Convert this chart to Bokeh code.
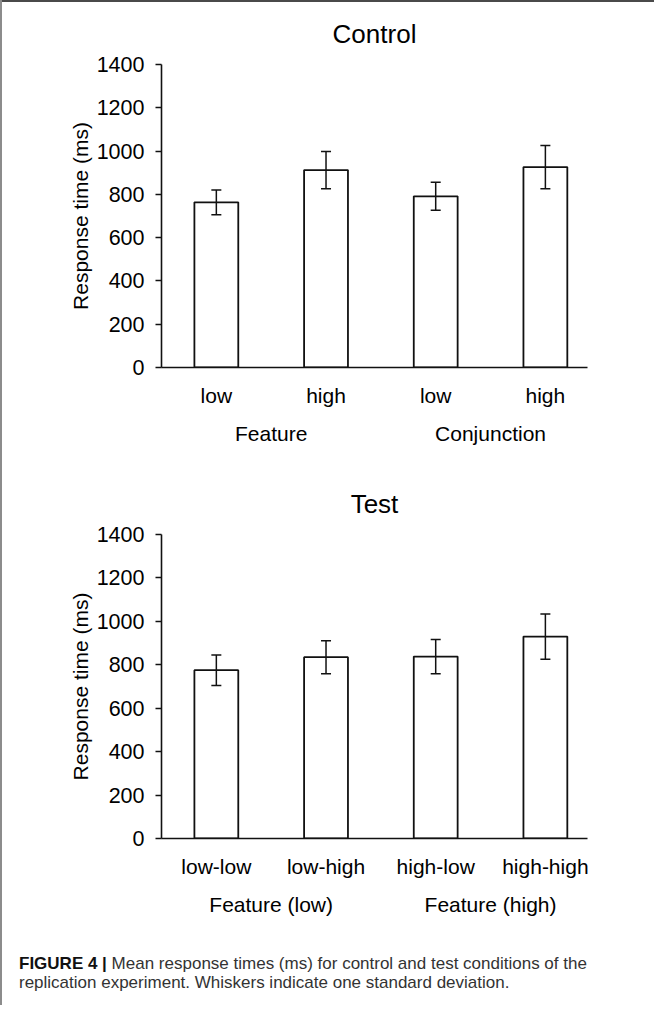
from bokeh.plotting import figure
from bokeh.models import (Range1d, LinearAxis, FixedTicker, Whisker, ColumnDataSource,
                          Div, TeeHead)
from bokeh.layouts import column
from bokeh.embed import file_html
from bokeh.resources import INLINE

# ---------------- data ----------------
ctrl_labels = ["low", "high", "low", "high"]
ctrl_groups = ["Feature", "Conjunction"]
ctrl_mean = [763, 912, 791, 926]
ctrl_sd = [57, 86, 65, 100]

test_labels = ["low-low", "low-high", "high-low", "high-high"]
test_groups = ["Feature (low)", "Feature (high)"]
test_mean = [775, 835, 838, 930]
test_sd = [70, 76, 79, 104]

y_ticks = [0, 200, 400, 600, 800, 1000, 1200, 1400]

FONT = "Liberation Sans"


def make_chart(title, labels, groups, means, sds, height, top, bottom):
    n = len(labels)
    xs = list(range(n))
    p = figure(width=646, height=height, x_range=Range1d(-0.5, 3.384),
               y_range=Range1d(0, 1400), output_backend="svg", toolbar_location=None,
               min_border_left=161, min_border_right=59, min_border_top=top,
               min_border_bottom=bottom)
    p.grid.visible = False
    p.outline_line_color = None
    p.background_fill_color = None
    p.border_fill_color = None

    src = ColumnDataSource(dict(x=xs, top=means,
                                upper=[m + s for m, s in zip(means, sds)],
                                lower=[m - s for m, s in zip(means, sds)]))
    p.vbar(x="x", top="top", bottom=0, width=0.4, fill_color="white",
           line_color="#111111", line_width=1.8, source=src)
    w = Whisker(base="x", upper="upper", lower="lower", source=src,
                line_color="#111111", line_width=1.5, level="overlay",
                upper_head=TeeHead(size=10, line_color="#111111", line_width=1.5),
                lower_head=TeeHead(size=10, line_color="#111111", line_width=1.5))
    p.add_layout(w)

    # title
    p.title.text = title
    p.title.align = "center"
    p.title.offset = 6
    p.title.text_font = FONT
    p.title.text_font_size = "26px"
    p.title.text_font_style = "normal"
    p.title.text_color = "black"
    p.title.standoff = 31

    # x axis (categories)
    xa = p.xaxis[0]
    xa.ticker = FixedTicker(ticks=xs)
    xa.major_label_overrides = {i: lab for i, lab in enumerate(labels)}
    xa.major_tick_line_color = None
    xa.minor_tick_line_color = None
    xa.axis_line_color = "#111111"
    xa.axis_line_width = 1.6
    xa.major_label_text_font = FONT
    xa.major_label_text_font_size = "21px"
    xa.major_label_text_color = "black"
    xa.major_label_standoff = 10

    # group axis
    gpos = [0.5, 2.5]
    ga = LinearAxis(ticker=FixedTicker(ticks=gpos),
                    major_label_overrides={g: lab for g, lab in zip(gpos, groups)},
                    axis_line_color=None, major_tick_line_color=None,
                    minor_tick_line_color=None,
                    major_label_text_font=FONT, major_label_text_font_size="21px",
                    major_label_text_color="black", major_label_standoff=6)
    p.add_layout(ga, "below")

    # y axis
    ya = p.yaxis[0]
    ya.ticker = FixedTicker(ticks=y_ticks)
    ya.major_tick_out = 6
    ya.major_tick_in = 0
    ya.major_tick_line_width = 1.5
    ya.major_tick_line_color = "#111111"
    ya.minor_tick_line_color = None
    ya.axis_line_width = 1.6
    ya.axis_line_color = "#111111"
    ya.major_label_text_font = FONT
    ya.major_label_text_font_size = "21.5px"
    ya.major_label_text_color = "black"
    ya.major_label_standoff = 11
    ya.axis_label = "Response time (ms)"
    ya.axis_label_text_font = FONT
    ya.axis_label_text_font_size = "21px"
    ya.axis_label_text_font_style = "normal"
    ya.axis_label_text_color = "black"
    ya.axis_label_standoff = 2
    return p


p1 = make_chart("Control", ctrl_labels, ctrl_groups, ctrl_mean, ctrl_sd, 470, 64, 103)
p2 = make_chart("Test", test_labels, test_groups, test_mean, test_sd, 460, 64, 92)

cap = Div(text=('<div style="padding:19px 20px 0 14px; font-family:\'Liberation Sans\', Arial, sans-serif;'
                ' font-size:17px; line-height:19px; color:#333; white-space:nowrap;">'
                '<b style="color:#111">FIGURE 4 |</b> Mean response times (ms) for control and test '
                'conditions of the<br>replication experiment. Whiskers indicate one standard deviation.'
                '</div>'),
          width=646, height=65)

layout = column(p1, p2, cap,
                styles={"box-shadow": "inset 2px 0 0 #8c8c8c, inset 0 2px 0 #4a4a4a"})

open("out.html", "w").write(file_html(layout, INLINE))
